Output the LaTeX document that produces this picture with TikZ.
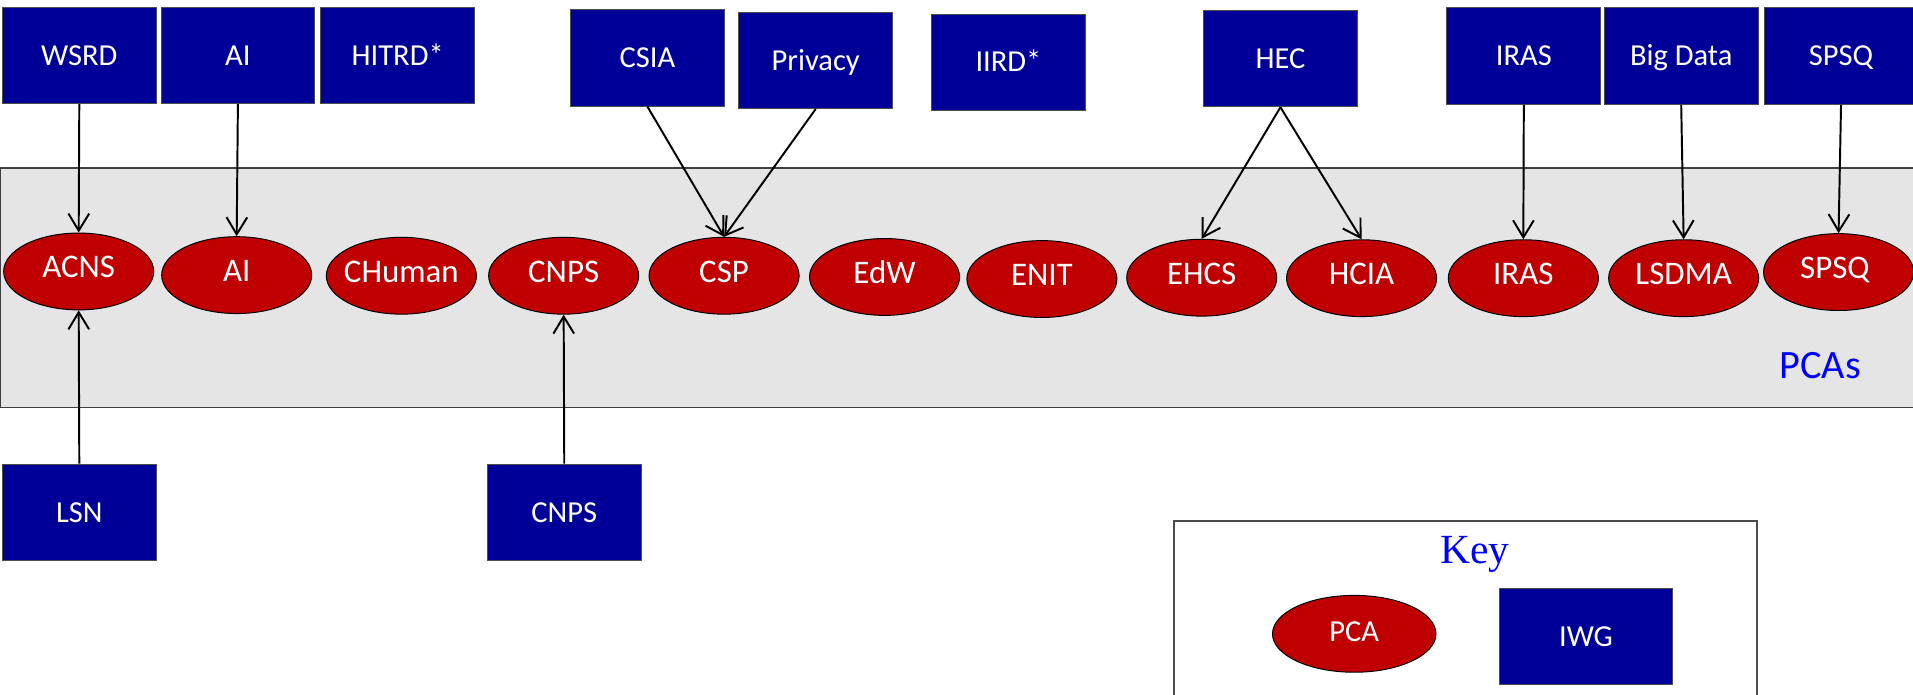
\documentclass[tikz,border=0pt]{standalone}
\usepackage{fontspec}
\setmainfont{Carlito}
\newfontfamily\keyfont{Liberation Serif}
\usetikzlibrary{shapes.geometric,arrows.meta}
\definecolor{iwgblue}{RGB}{0,0,153}
\definecolor{pcared}{RGB}{192,0,0}
\definecolor{keyblue}{RGB}{0,0,255}
\tikzset{
	iwg/.style={rectangle, draw=black!70, fill=iwgblue, text=white, minimum width=63pt, minimum height=39.5pt, text height=8pt, text depth=0pt, font=\fontsize{12.5}{15}\selectfont},
	pca/.style={ellipse, draw=black, fill=pcared, text=white, minimum width=61.5pt, minimum height=31.5pt, inner sep=0pt, text height=8.7pt, text depth=3.5pt, font=\fontsize{13.5}{16}\selectfont},
	link/.style={-{Straight Barb[length=7pt,width=8.5pt]}, line width=0.8pt}
}
\begin{document}
\begin{tikzpicture}[x=0.5pt, y=-0.5pt]
			\useasboundingbox (0,0) rectangle (1568,569);
			\draw[fill=gray!20, draw=black!75, line width=0.7pt] (0,137.5) rectangle (1580,334);
			\node[anchor=base, text=keyblue, font=\fontsize{16.5}{20}\selectfont] (pcas) at (1492,310) {PCAs};
			\foreach \name/\coord/\txt in {
				wsrd/{65,45.5}/{WSRD},
				aiwg/{195,45.5}/{AI},
				hitrd/{326,45.5}/{HITRD*},
				csia/{530.7,47.5}/{CSIA},
				privacy/{668.6,49.4}/{Privacy},
				iird/{826.6,51}/{IIRD*},
				hec/{1049.5,48}/{HEC},
				iraswg/{1249,46}/{IRAS},
				bigdata/{1378,46}/{Big Data},
				spsqwg/{1509,46}/{SPSQ},
				lsn/{65,420}/{LSN},
				cnpswg/{462.5,420}/{CNPS}
			}{
			\node[iwg] (\name) at (\coord) {\txt};
			}
			\foreach \name/\coord/\txt in {
				acns/{64.5,222.5}/{ACNS},
				ai/{194,225.5}/{AI},
				chuman/{329,226}/{CHuman},
				cnps/{462,226}/{CNPS},
				csp/{593.5,226}/{CSP},
				edw/{725,227}/{EdW},
				enit/{854,228.7}/{ENIT},
				ehcs/{985,227.6}/{EHCS},
				hcia/{1116,228}/{HCIA},
				iras/{1248.6,228}/{IRAS},
				lsdma/{1380,228}/{LSDMA},
				spsq/{1507,223}/{SPSQ}
			}{
			\node[pca] (\name) at (\coord) {\makebox[0pt]{\txt}};
			}
			\foreach \a/\b in {wsrd/acns, aiwg/ai, csia/csp, privacy/csp, hec/ehcs, hec/hcia, iraswg/iras, bigdata/lsdma, spsqwg/spsq}
			\draw[link] (\a.south) -- (\b.north);
			\foreach \a/\b in {lsn/acns, cnpswg/cnps}
			\draw[link] (\a.north) -- (\b.south);
			\draw[draw=black!70, line width=0.7pt] (962,427) rectangle (1440,600);
			\node[anchor=base, text=keyblue, font=\keyfont\fontsize{17}{20}\selectfont] (key) at (1209,461.6) {Key};
			\node[pca, minimum width=67pt, text height=8pt, text depth=2pt, font=\fontsize{12.5}{15}\selectfont] (keypca) at (1110,519.5) {\makebox[0pt]{PCA}};
			\node[iwg, minimum width=71pt] (keyiwg) at (1300,521.5) {IWG};
\end{tikzpicture}
\end{document}
